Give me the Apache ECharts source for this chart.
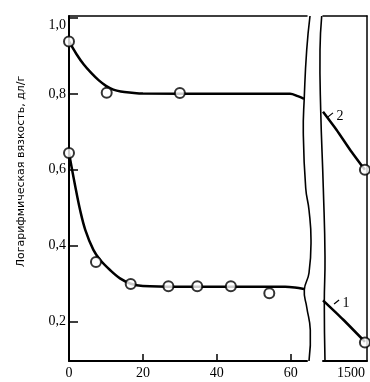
<!DOCTYPE html>
<html><head><meta charset="utf-8">
<script src="https://cdn.jsdelivr.net/npm/echarts@6/dist/echarts.min.js"></script>
<style>html,body{margin:0;padding:0;background:#fff}#c{width:370px;height:382px}</style>
</head><body><div id="c"></div>
<script>
// ---- data ----
const yTicks = [0.2, 0.4, 0.6, 0.8, 1.0];
const xTicksLeft = [0, 20, 40, 60];
const xTicksRight = [1500];
// curve 2 (upper) fitted line, left panel
const curve2Left = [[0,0.938],[2,0.905],[4,0.877],[6,0.855],[8,0.836],[10,0.821],[12,0.811],[14,0.806],[17,0.803],[20,0.801],[40,0.800],[59.8,0.800],[61.9,0.794],[63.6,0.787]];
// curve 1 (lower) fitted line, left panel
const curve1Left = [[0,0.644],[1.7,0.556],[3.0,0.494],[4.4,0.442],[6.6,0.389],[8.4,0.363],[11.1,0.336],[13.8,0.314],[16.7,0.300],[20,0.294],[30,0.292],[58.5,0.292],[61.1,0.290],[63.6,0.286]];
// measured points
const points2Left = [[0,0.938],[10.2,0.803],[30,0.802]];
const points1Left = [[0,0.644],[7.3,0.357],[16.7,0.299],[26.9,0.293],[34.7,0.293],[43.8,0.293],[54.2,0.275]];
// right panel (after break)
const curve2Right = [[1300,0.753],[1365,0.705],[1429,0.653],[1500,0.600]];
const curve1Right = [[1300,0.256],[1397,0.205],[1500,0.147]];
const points2Right = [[1500,0.600]];
const points1Right = [[1500,0.145]];
// curve labels
const curveLabels = [{text:'2', at:[1381,0.742]}, {text:'1', at:[1410,0.249]}];

const yMin = 0.0964, yMax = 1.005;
const G0 = {left:69, top:16, width:238, height:345};
const G1 = {left:323, top:16, width:44, height:345};

const chart = echarts.init(document.getElementById('c'), null, {renderer:'canvas'});
const black = '#000';
const serif = 'Liberation Serif';
const fmtY = v => {
  const s = (Math.round(v*10)/10).toFixed(1).replace('.', ',');
  return v > 0.95 ? '{t|' + s + '}' : s;
};

const lineS = (data, xi) => ({type:'line', data, xAxisIndex:xi, yAxisIndex:xi, symbol:'none', smooth:0.35,
  lineStyle:{color:black, width:2.5}, silent:true, z:3});
const ptS = (data, xi) => ({type:'scatter', data, xAxisIndex:xi, yAxisIndex:xi, symbol:'circle', symbolSize:10,
  itemStyle:{color:'#fff', borderColor:black, borderWidth:2}, clip:false, z:5});

chart.setOption({
  animation:false,
  grid:[
    Object.assign({containLabel:false}, G0),
    Object.assign({containLabel:false}, G1)
  ],
  xAxis:[
    {type:'value', gridIndex:0, min:0, max:64.4, position:'bottom',
      axisLine:{show:true, lineStyle:{color:black, width:2}},
      axisTick:{show:true, inside:true, length:7, customValues:xTicksLeft, lineStyle:{color:black, width:1.5}},
      axisLabel:{customValues:xTicksLeft, formatter:v => String(v), color:black, fontFamily:serif, fontSize:14, margin:5},
      splitLine:{show:false}},
    {type:'value', gridIndex:1, min:1300, max:1510, position:'bottom',
      axisLine:{show:true, lineStyle:{color:black, width:2}},
      axisTick:{show:false},
      axisLabel:{customValues:xTicksRight, formatter:v => String(v), color:black, fontFamily:serif, fontSize:14, margin:5, align:'right'},
      splitLine:{show:false}},
    {type:'value', gridIndex:0, min:0, max:64.4, position:'top',
      axisLine:{show:true, lineStyle:{color:black, width:1.5}}, axisTick:{show:false}, axisLabel:{show:false}, splitLine:{show:false}},
    {type:'value', gridIndex:1, min:1300, max:1510, position:'top',
      axisLine:{show:true, lineStyle:{color:black, width:1.5}}, axisTick:{show:false}, axisLabel:{show:false}, splitLine:{show:false}}
  ],
  yAxis:[
    {type:'value', gridIndex:0, min:yMin, max:yMax, position:'left',
      name:'Логарифмическая вязкость, дл/г', nameLocation:'middle', nameGap:42,
      nameTextStyle:{color:black, fontFamily:'DejaVu Sans', fontSize:11, padding:[0,0,0,34]},
      axisLine:{show:true, lineStyle:{color:black, width:2}},
      axisTick:{show:true, inside:true, length:9, customValues:yTicks, lineStyle:{color:black, width:1.5}},
      axisLabel:{customValues:yTicks, formatter:fmtY, color:black, fontFamily:serif, fontSize:14, margin:3,
        rich:{t:{color:black, fontFamily:serif, fontSize:14, padding:[14,0,0,0]}}},
      splitLine:{show:false}},
    {type:'value', gridIndex:1, min:yMin, max:yMax, position:'left',
      axisLine:{show:false}, axisTick:{show:false}, axisLabel:{show:false}, splitLine:{show:false}},
    {type:'value', gridIndex:1, min:yMin, max:yMax, position:'right',
      axisLine:{show:true, lineStyle:{color:black, width:1.5}}, axisTick:{show:false}, axisLabel:{show:false}, splitLine:{show:false}}
  ],
  series:[
    lineS(curve2Left, 0), lineS(curve1Left, 0),
    ptS(points2Left, 0), ptS(points1Left, 0),
    Object.assign(lineS(curve2Right, 1), {smooth:0.2}), Object.assign(lineS(curve1Right, 1), {smooth:0.2}),
    ptS(points2Right, 1), ptS(points1Right, 1)
  ]
});

// decorative break edges (wavy) and curve labels
const leftEdge = [[310,16],[306.7,50],[304.3,97],[303.3,133],[305.7,188],[309,210],[311,240],[309,273],[304.3,290],[306.7,307],[310.3,330],[309,361]];
const rightEdge = [[321.7,16],[320,50],[320.7,110],[323.3,188],[325,257],[324.3,303],[325,361]];
const gfx = [
  {type:'polyline', shape:{points:leftEdge, smooth:0.5}, style:{stroke:black, lineWidth:1.6, fill:null}, z:10},
  {type:'polyline', shape:{points:rightEdge, smooth:0.5}, style:{stroke:black, lineWidth:1.6, fill:null}, z:10}
];
curveLabels.forEach(l => {
  const p = chart.convertToPixel({xAxisIndex:1, yAxisIndex:1}, l.at);
  gfx.push({type:'text', x:p[0], y:p[1], style:{text:l.text, font:'14px "Liberation Serif"', fill:black, align:'center', verticalAlign:'middle'}, z:10});
  gfx.push({type:'line', shape:{x1:p[0]-12, y1:p[1]+1, x2:p[0]-7, y2:p[1]-3}, style:{stroke:black, lineWidth:1.2}, z:10});
});
chart.setOption({graphic:gfx});
</script>
</body></html>
